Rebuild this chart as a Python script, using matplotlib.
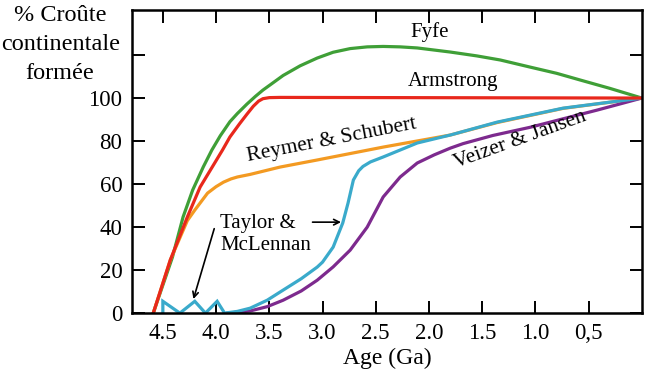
import matplotlib
matplotlib.use("Agg")
import matplotlib.pyplot as plt

plt.rcParams['font.family'] = ['Liberation Serif', 'DejaVu Serif']

# --- DONNÉES (âge en Ga, % de croûte formée) ---
fyfe_age = [4.59, 4.41, 4.31, 4.22, 4.12, 4.04, 3.96, 3.87, 3.80, 3.71, 3.63, 3.56, 3.49, 3.37,
            3.21, 3.05, 2.90, 2.74, 2.58, 2.43, 2.27, 2.11, 1.80, 1.55, 1.33, 1.05, 0.80, 0.58, 0.30, 0.0]
fyfe_pct = [0, 26, 44.7, 57.2, 68, 75.8, 82.5, 89, 92.8, 97.2, 100.8, 103.7, 106.2, 110.5,
            115, 118.6, 121.3, 123, 123.8, 124, 123.8, 123.3, 121.4, 119.6, 117.7, 114.4, 111.5, 108.4, 104.5, 100]

arm_age = [4.59, 4.43, 4.27, 4.15, 3.94, 3.87, 3.78, 3.71, 3.65, 3.60, 3.56, 3.50, 3.40, 0.0]
arm_pct = [0, 24.7, 44.7, 58.6, 75.8, 81.9, 88, 92.5, 96.2, 98.6, 99.7, 100.2, 100.3, 100]

rs_age = [4.59, 4.43, 4.27, 4.20, 4.08, 4.00, 3.93, 3.86, 3.80, 3.68, 3.40, 3.05, 2.43, 1.80, 1.36, 0.74, 0.0]
rs_pct = [0, 24.7, 43, 47.9, 55.8, 58.8, 60.9, 62.4, 63.3, 64.5, 67.9, 71.2, 77.2, 82.8, 88.6, 95.2, 100]

tm_age = [4.50, 4.50, 4.34, 4.20, 4.10, 3.99, 3.92, 3.80, 3.68, 3.52, 3.37, 3.20, 3.05, 3.00, 2.90,
          2.81, 2.76, 2.71, 2.66, 2.62, 2.55, 2.43, 2.11, 1.80, 1.36, 0.74, 0.0]
tm_pct = [0, 5.5, 0, 5.5, 0, 5.5, 0, 0.8, 2.3, 6, 10.7, 16, 21.4, 23.7, 30.7,
          41.9, 51.2, 61.9, 66.2, 68.2, 70.3, 72.6, 79.1, 82.8, 88.8, 95.3, 100]

vj_age = [3.89, 3.68, 3.52, 3.37, 3.20, 3.05, 2.90, 2.74, 2.58, 2.43, 2.27, 2.11, 1.95, 1.80,
          1.68, 1.40, 1.05, 0.72, 0.42, 0.0]
vj_pct = [0, 1, 3, 6, 10.3, 15.3, 21.5, 29.3, 40, 54, 63.3, 69.8, 73.6, 76.7,
          78.8, 82.6, 86.4, 90.6, 94.4, 100]

x_ticks = [4.5, 4.0, 3.5, 3.0, 2.5, 2.0, 1.5, 1.0, 0.5]
x_labels = ['4.5', '4.0', '3.5', '3.0', '2.5', '2.0', '1.5', '1.0', '0,5']
y_ticks = [0, 20, 40, 60, 80, 100, 120]
y_labels = ['0', '20', '40', '60', '80', '100', '']

# --- FIGURE ---
fig = plt.figure(figsize=(6.47, 3.80), dpi=100)
ax = fig.add_axes([0.204, 0.176, 0.788, 0.798])

lw = 2.3
ax.plot(fyfe_age, fyfe_pct, color='#3f9f37', lw=lw)
ax.plot(rs_age, rs_pct, color='#f39a22', lw=lw)
ax.plot(vj_age, vj_pct, color='#7d2a8e', lw=lw)
ax.plot(tm_age, tm_pct, color='#3aaacb', lw=lw, solid_joinstyle='miter')
ax.plot(arm_age, arm_pct, color='#e8281c', lw=lw)

ax.set_xlim(4.79, 0)
ax.set_ylim(0, 141)
ax.set_xticks(x_ticks)
ax.set_xticklabels(x_labels)
ax.set_yticks(y_ticks)
ax.set_yticklabels(y_labels)
ax.tick_params(direction='in', length=9, width=1.4, labelsize=16.5, pad=7,
               top=True, right=True)
for s in ax.spines.values():
    s.set_linewidth(1.8)

ax.set_xlabel('Age (Ga)', fontsize=17, labelpad=3)
fig.text(0.093, 0.988, '% Croûte\ncontinentale\nformée', fontsize=17.5,
         ha='center', va='top', linespacing=1.5)

# --- ÉTIQUETTES ---
ax.text(1.99, 130.5, 'Fyfe', fontsize=15, ha='center', va='center')
ax.text(1.77, 107.5, 'Armstrong', fontsize=15, ha='center', va='center')
ax.text(2.91, 80.3, 'Reymer & Schubert', fontsize=15.5, ha='center', va='center', rotation=11)
ax.text(1.14, 80.5, 'Veizer & Jansen', fontsize=15.5, ha='center', va='center', rotation=20)
ax.text(3.96, 36.5, 'Taylor &\nMcLennan', fontsize=15, ha='left', va='center', linespacing=1.2)

ax.annotate('', xy=(4.22, 5.3), xytext=(4.01, 40.5),
            arrowprops=dict(arrowstyle='->', color='black', lw=1.2))
ax.annotate('', xy=(2.80, 42.3), xytext=(3.12, 42.3),
            arrowprops=dict(arrowstyle='->', color='black', lw=1.2))

fig.savefig('out.png', dpi=100)
